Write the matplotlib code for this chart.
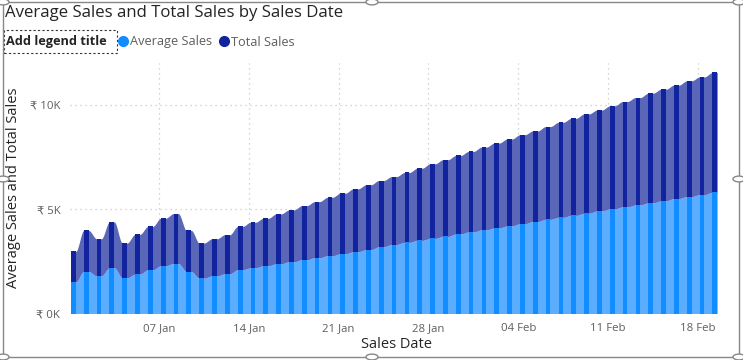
import numpy as np
import pandas as pd
import matplotlib.pyplot as plt
from matplotlib.lines import Line2D
from matplotlib.patches import Rectangle, Circle


# Data (one value per day, 01 Jan - 20 Feb)
dates = pd.date_range("2024-01-01", "2024-02-20", freq="D")

avg_sales = [
    1515, 2010, 1800, 2190, 1705, 1885, 2090, 2285, 2395, 2010,
    1690, 1800, 1900, 2090, 2190, 2285, 2380, 2475, 2570, 2670,
    2765, 2860, 2955, 3055, 3195, 3305, 3405, 3500, 3595, 3690,
    3805, 3905, 4000, 4095, 4195, 4300, 4405, 4510, 4605, 4700,
    4800, 4910, 5010, 5105, 5200, 5300, 5395, 5505, 5600, 5695,
    5805,
]
total_sales = [
    1460, 1970, 1780, 2195, 1670, 1905, 2080, 2275, 2390, 1970,
    1685, 1780, 1875, 2080, 2180, 2275, 2390, 2485, 2595, 2690,
    2800, 2900, 3015, 3110, 3175, 3255, 3350, 3460, 3575, 3675,
    3765, 3860, 3970, 4070, 4165, 4265, 4340, 4445, 4555, 4650,
    4760, 4835, 4935, 5050, 5145, 5255, 5350, 5435, 5545, 5640,
    5740,
]
tick_dates = pd.to_datetime([
    "2024-01-07", "2024-01-14", "2024-01-21", "2024-01-28",
    "2024-02-04", "2024-02-11", "2024-02-18",
])
y_ticks = [0, 5000, 10000]
y_tick_labels = ["₹ 0K", "₹ 5K", "₹ 10K"]

series_names = ["Average Sales", "Total Sales"]
col_colors = ["#118DFF", "#12239E"]
rib_colors = ["#5BAEFF", "#5A66B8"]

FONT = ["Open Sans", "DejaVu Sans"]
plt.rcParams["font.family"] = FONT

W, H = 743, 360
bar_w = 0.37


def fx(px):
    return px / W


def fy(py):
    return 1 - py / H


def ribbon(y, w, n=40):
    # flat under each column, smooth S-curve across the gap to the next one
    xs, ys = [], []
    for i in range(len(y)):
        xs += [i - w / 2, i + w / 2]
        ys += [y[i], y[i]]
        if i < len(y) - 1:
            t = np.linspace(0, 1, n)[1:-1]
            s = t * t * (3 - 2 * t)
            xs += list(i + w / 2 + t * (1 - w))
            ys += list(y[i] + s * (y[i + 1] - y[i]))
    return np.array(xs), np.array(ys)


idx = np.arange(len(dates))
avg = np.array(avg_sales, dtype=float)
tot = np.array(total_sales, dtype=float)
stack_top = avg + tot

fig = plt.figure(figsize=(W / 100, H / 100), dpi=100)
ax = fig.add_axes([fx(70), fy(313.5), fx(720) - fx(70), fy(63) - fy(313.5)])

# Ribbons
rx, r_low = ribbon(avg, bar_w)
_, r_top = ribbon(stack_top, bar_w)
ax.fill_between(rx, 0, r_low, color=rib_colors[0], lw=0, zorder=2)
ax.fill_between(rx, r_low, r_top, color=rib_colors[1], lw=0, zorder=2)

# Columns
ax.bar(idx, avg, width=bar_w, color=col_colors[0], lw=0, zorder=3)
ax.bar(idx, tot, width=bar_w, bottom=avg, color=col_colors[1], lw=0, zorder=3)

# Axes
ax.set_xlim(-0.26, 50.4)
ax.set_ylim(0, 12000)

tick_pos = (tick_dates - dates[0]).days + 0.68
ax.set_xticks(tick_pos)
ax.set_xticklabels([d.strftime("%d %b") for d in tick_dates])
ax.set_yticks(y_ticks)
ax.set_yticklabels(y_tick_labels)
ax.tick_params(length=0, labelsize=8.2, colors="#605E5C", pad=7)
ax.tick_params(axis="x", pad=7)

for s in ax.spines.values():
    s.set_visible(False)

for yv in y_ticks[1:]:
    ax.axhline(yv, color="#C8C6C4", lw=0.9, ls=(0, (1, 3)), zorder=1)
for xv in tick_pos:
    ax.axvline(xv, color="#C8C6C4", lw=0.9, ls=(0, (1, 3)), zorder=1)

# Axis titles
fig.text(fx(14), fy(188), "Average Sales and Total Sales", fontsize=10.5,
         color="#252423", rotation=90, va="center", ha="center")
fig.text(fx(396), fy(345), "Sales Date", fontsize=10.5, color="#252423",
         va="center", ha="center")

# Title
fig.text(fx(5), fy(13), "Average Sales and Total Sales by Sales Date",
         fontsize=12.1, color="#252423", va="center", ha="left")

# Legend (Power BI style)
fig.text(fx(6), fy(42), "Add legend title", fontsize=9.2, fontweight="bold",
         color="#252423", va="center", ha="left")
fig.add_artist(Rectangle((fx(4), fy(53)), fx(117) - fx(4), fy(30) - fy(53),
                         transform=fig.transFigure, fill=False,
                         ec="#333333", lw=0.8, ls=(0, (2, 2))))
leg_x = [123, 224]
for name, c, lx in zip(series_names, col_colors, leg_x):
    fig.add_artist(Line2D([fx(lx)], [fy(41)], marker="o", ms=7, color=c,
                          transform=fig.transFigure))
    fig.text(fx(lx + 7), fy(42), name, fontsize=9.2, color="#605E5C",
             va="center", ha="left")

# Visual border with selection handles
fig.add_artist(Rectangle((fx(3), fy(357)), fx(739) - fx(3), fy(2) - fy(357),
                         transform=fig.transFigure, fill=False,
                         ec="#8A8886", lw=1.0))
for hx, hy in [(3, 2), (372, 2), (739, 2), (3, 179), (739, 179),
               (3, 357), (372, 357), (739, 357)]:
    fig.add_artist(Circle((fx(hx), fy(hy)), 6 / W, transform=fig.transFigure,
                          fc="white", ec="#8A8886", lw=1.0, zorder=10))

fig.savefig("out.png", dpi=100)
